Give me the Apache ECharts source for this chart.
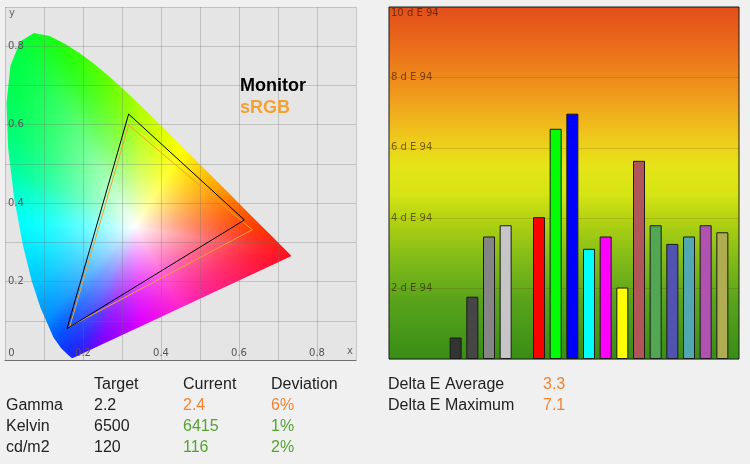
<!DOCTYPE html>
<html>
<head>
<meta charset="utf-8">
<script src="https://cdn.jsdelivr.net/npm/echarts@6/dist/echarts.min.js"></script>
<style>
  html, body { margin: 0; padding: 0; background: #f0f0f0; }
  #main { width: 750px; height: 464px; }
</style>
</head>
<body>
<div id="main"></div>
<script>
// CIE 1931 spectral locus, chromaticity x / y
var locus = [
  [0.1741, 0.0050], [0.1733, 0.0048], [0.1714, 0.0051], [0.1689, 0.0069],
  [0.1644, 0.0109], [0.1566, 0.0177], [0.1440, 0.0297], [0.1241, 0.0578],
  [0.0913, 0.1327], [0.0687, 0.2007], [0.0454, 0.2950], [0.0235, 0.4127],
  [0.0082, 0.5384], [0.0039, 0.6548], [0.0139, 0.7502], [0.0389, 0.8120],
  [0.0743, 0.8338], [0.1142, 0.8262], [0.1547, 0.8059], [0.1929, 0.7816],
  [0.2296, 0.7543], [0.2658, 0.7243], [0.3016, 0.6923], [0.3373, 0.6589],
  [0.3731, 0.6245], [0.4087, 0.5896], [0.4441, 0.5547], [0.4788, 0.5202],
  [0.5125, 0.4866], [0.5448, 0.4544], [0.5752, 0.4242], [0.6029, 0.3965],
  [0.6270, 0.3725], [0.6482, 0.3514], [0.6658, 0.3340], [0.6801, 0.3197],
  [0.6915, 0.3083], [0.7006, 0.2993], [0.7079, 0.2920], [0.7140, 0.2859],
  [0.7190, 0.2809], [0.7260, 0.2740], [0.7320, 0.2680], [0.7347, 0.2653]
];
var whitePoint = [0.333, 0.34];
var monitorGamut = [[0.317, 0.627], [0.614, 0.357], [0.159, 0.080]];
var srgbGamut = [[0.317, 0.599], [0.634, 0.332], [0.166, 0.085]];

// delta E per colour patch (slots on the bar axis, null = empty)
var deltaE = [null, null, null, null, 0.61, 1.77, 3.48, 3.80, null, 4.03, 6.54,
  6.97, 3.13, 3.48, 2.03, 5.63, 3.80, 3.27, 3.48, 3.80, 3.60, null];
var patchColors = [null, null, null, null, '#333333', '#464646', '#858585', '#c6c6c6',
  null, '#ff0000', '#00ff00', '#0000ff', '#00ffff', '#ff00ff', '#ffff00',
  '#b05658', '#52a852', '#5252b0', '#52a8b0', '#b052b0', '#b0ac52', null];
var slots = deltaE.map(function (v, i) { return String(i); });

var tableHeader = ['Target', 'Current', 'Deviation'];
var rowNames = ['Gamma', 'Kelvin', 'cd/m2'];
var targetVals = ['2.2', '6500', '120'];
var currentVals = ['2.4', '6415', '116'];
var deviationVals = ['6%', '1%', '2%'];
var rowWarn = [true, false, false];
var deltaNames = ['Delta E Average', 'Delta E Maximum'];
var deltaVals = ['3.3', '7.1'];

var ORANGE = '#ef8535';
var GREEN = '#56a333';
var FONT = '16px "Liberation Sans", Arial, sans-serif';

// hue wheel around the white point (angle in degrees -> rgb), for the diagram fill
var hueStops = [
  [0, [255, 60, 0]], [12, [255, 110, 0]], [25, [255, 160, 0]], [40, [255, 205, 0]],
  [58, [255, 255, 0]], [72, [225, 255, 0]], [87, [180, 255, 0]], [102, [90, 255, 0]],
  [112, [30, 255, 10]], [123, [0, 255, 64]], [132, [0, 255, 80]], [142, [0, 255, 112]],
  [154, [0, 255, 154]], [161, [0, 255, 192]], [169, [0, 255, 224]], [178, [0, 255, 255]],
  [188, [0, 240, 255]], [208, [0, 200, 255]], [226, [0, 144, 255]], [235, [0, 80, 255]],
  [245, [30, 30, 255]], [254, [128, 0, 255]], [274, [224, 0, 255]], [300, [255, 40, 200]],
  [334, [255, 30, 96]], [349, [255, 16, 32]], [360, [255, 60, 0]]
];

var chartDom = document.getElementById('main');
var myChart = echarts.init(chartDom);
var option;

function hueAt(deg) {
  for (var i = 1; i < hueStops.length; i++) {
    if (deg <= hueStops[i][0]) {
      var a = hueStops[i - 1], b = hueStops[i];
      var f = (deg - a[0]) / (b[0] - a[0]);
      return [0, 1, 2].map(function (c) { return a[1][c] + (b[1][c] - a[1][c]) * f; });
    }
  }
  return hueStops[0][1];
}

// how far a point lies from white towards the locus edge (1 = on the edge)
function edgeRatio(px, py) {
  var wx = whitePoint[0], wy = whitePoint[1];
  var dx = px - wx, dy = py - wy;
  if (dx === 0 && dy === 0) return 0;
  var n = locus.length, best = Infinity;
  for (var i = 0; i < n; i++) {
    var A = locus[i], B = locus[(i + 1) % n];
    var ex = B[0] - A[0], ey = B[1] - A[1];
    var den = dx * ey - dy * ex;
    if (Math.abs(den) < 1e-12) continue;
    var ax = A[0] - wx, ay = A[1] - wy;
    var u = (ax * ey - ay * ex) / den;
    var v = (ax * dy - ay * dx) / den;
    if (u > 0 && v >= 0 && v <= 1 && u < best) best = u;
  }
  return best === Infinity ? 1 : 1 / best;
}

var cieCanvas = null;
function buildCie(w, h, xr, yr) {
  var dpr = window.devicePixelRatio || 1;
  var cw = Math.round(w * dpr), ch = Math.round(h * dpr);
  var c = document.createElement('canvas');
  c.width = cw;
  c.height = ch;
  var ctx = c.getContext('2d');
  var img = ctx.createImageData(cw, ch);
  for (var j = 0; j < ch; j++) {
    for (var i = 0; i < cw; i++) {
      var cx = xr[0] + ((i + 0.5) / cw) * (xr[1] - xr[0]);
      var cy = yr[1] - ((j + 0.5) / ch) * (yr[1] - yr[0]);
      var k = (j * cw + i) * 4;
      var deg = Math.atan2(cy - whitePoint[1], cx - whitePoint[0]) * 180 / Math.PI;
      if (deg < 0) deg += 360;
      var hue = hueAt(deg);
      var t = Math.min(1, edgeRatio(cx, cy));
      var s = 1 - Math.pow(1 - t, 1.5);
      img.data[k] = 255 * (1 - s) + hue[0] * s;
      img.data[k + 1] = 255 * (1 - s) + hue[1] * s;
      img.data[k + 2] = 255 * (1 - s) + hue[2] * s;
      img.data[k + 3] = 255;
    }
  }
  ctx.putImageData(img, 0, 0);
  return c;
}

function renderCie(params, api) {
  var p0 = api.coord([0, 0.9]);
  var p1 = api.coord([0.9, 0]);
  var w = p1[0] - p0[0], h = p1[1] - p0[1];
  if (!cieCanvas) cieCanvas = buildCie(w, h, [0, 0.9], [0, 0.9]);
  return {
    type: 'image',
    silent: true,
    style: { image: cieCanvas, x: p0[0], y: p0[1], width: w, height: h },
    clipPath: { type: 'polygon', shape: { points: locus.map(function (p) { return api.coord(p); }) } }
  };
}

function closed(pts) { return pts.concat([pts[0]]); }

var graphics = [
  { type: 'text', left: 9, top: 8, style: { text: 'y', fill: '#666', font: '10px "DejaVu Sans", sans-serif' } },
  { type: 'text', left: 347, top: 346, style: { text: 'x', fill: '#666', font: '10px "DejaVu Sans", sans-serif' } },
  { type: 'text', left: 240, top: 77, style: { text: 'Monitor', fill: '#000', font: 'bold 18px "Liberation Sans", Arial, sans-serif' } },
  { type: 'text', left: 240, top: 99, style: { text: 'sRGB', fill: '#f2a233', font: 'bold 18px "Liberation Sans", Arial, sans-serif' } }
];
var colX = [94, 183, 271];
tableHeader.forEach(function (t, i) {
  graphics.push({ type: 'text', x: colX[i], y: 385, style: { text: t, fill: '#222', font: FONT, verticalAlign: 'middle' } });
});
rowNames.forEach(function (name, r) {
  var y = 406 + r * 20.7;
  var c = rowWarn[r] ? ORANGE : GREEN;
  graphics.push({ type: 'text', x: 6, y: y, style: { text: name, fill: '#222', font: FONT, verticalAlign: 'middle' } });
  graphics.push({ type: 'text', x: colX[0], y: y, style: { text: targetVals[r], fill: '#222', font: FONT, verticalAlign: 'middle' } });
  graphics.push({ type: 'text', x: colX[1], y: y, style: { text: currentVals[r], fill: c, font: FONT, verticalAlign: 'middle' } });
  graphics.push({ type: 'text', x: colX[2], y: y, style: { text: deviationVals[r], fill: c, font: FONT, verticalAlign: 'middle' } });
});
deltaNames.forEach(function (name, r) {
  var y = 385 + r * 20.5;
  graphics.push({ type: 'text', x: 388, y: y, style: { text: name, fill: '#222', font: FONT, verticalAlign: 'middle' } });
  graphics.push({ type: 'text', x: 543, y: y, style: { text: deltaVals[r], fill: ORANGE, font: FONT, verticalAlign: 'middle' } });
});
graphics.forEach(function (g) { g.z = 20; });

var deLabel = { color: 'rgba(40,15,0,0.6)', fontSize: 10, fontFamily: '"DejaVu Sans", sans-serif' };
var cieGrid = 'rgba(110,110,110,0.3)';

option = {
  backgroundColor: '#f0f0f0',
  animation: false,
  graphic: graphics,
  grid: [
    { left: 5, top: 7, width: 351, height: 353, show: true, backgroundColor: '#e5e5e5', borderWidth: 0 },
    {
      left: 389, top: 7, width: 350, height: 352, show: true, borderColor: '#1a1a1a', borderWidth: 1,
      backgroundColor: {
        type: 'linear', x: 0, y: 0, x2: 0, y2: 1,
        colorStops: [
          { offset: 0, color: '#e24e1a' },
          { offset: 0.12, color: '#eb6e1a' },
          { offset: 0.25, color: '#f09a1c' },
          { offset: 0.36, color: '#efc41c' },
          { offset: 0.45, color: '#e6e418' },
          { offset: 0.53, color: '#d6e414' },
          { offset: 0.61, color: '#b0d112' },
          { offset: 0.71, color: '#84bc18' },
          { offset: 0.83, color: '#5aa41c' },
          { offset: 1, color: '#378d16' }
        ]
      }
    }
  ],
  xAxis: [
    {
      gridIndex: 0, type: 'value', min: 0, max: 0.9, interval: 0.1, z: 3,
      axisLine: { show: true, onZero: false, lineStyle: { color: '#6e6e6e', width: 1 } },
      axisTick: { show: false },
      splitLine: { show: true, lineStyle: { color: cieGrid, width: 1 } },
      axisLabel: {
        inside: true, margin: 2, color: '#555', fontSize: 10, fontFamily: '"DejaVu Sans", sans-serif',
        alignMinLabel: 'left', showMaxLabel: true,
        formatter: function (v) {
          var t = Math.round(v * 10);
          if (t === 0) return ' 0';
          return t % 2 === 0 ? (t / 10).toFixed(1) : '';
        }
      }
    },
    {
      gridIndex: 1, type: 'category', data: slots, boundaryGap: false,
      axisLine: { show: false }, axisTick: { show: false }, axisLabel: { show: false }, splitLine: { show: false }
    }
  ],
  yAxis: [
    {
      gridIndex: 0, type: 'value', min: 0, max: 0.9, interval: 0.1, z: 3,
      axisLine: { show: false }, axisTick: { show: false },
      splitLine: { show: true, lineStyle: { color: cieGrid, width: 1 } },
      axisLabel: {
        inside: true, margin: 3, color: '#555', fontSize: 10, fontFamily: '"DejaVu Sans", sans-serif',
        formatter: function (v) {
          var t = Math.round(v * 10);
          return t > 0 && t % 2 === 0 ? (t / 10).toFixed(1) : '';
        }
      }
    },
    {
      gridIndex: 1, type: 'value', min: 0, max: 10, interval: 2,
      axisLine: { show: false }, axisTick: { show: false },
      splitLine: { show: true, lineStyle: { color: 'rgba(90,40,0,0.16)', width: 1 } },
      axisLabel: {
        inside: true, margin: 2, color: deLabel.color, fontSize: 10, fontFamily: deLabel.fontFamily,
        formatter: function (v) {
          if (v === 0) return '';
          if (v === 10) return '{top|10 d E 94}';
          return v + ' d E 94';
        },
        rich: {
          top: { padding: [13, 0, 0, 0], color: deLabel.color, fontSize: 10, fontFamily: deLabel.fontFamily }
        }
      }
    }
  ],
  series: [
    {
      type: 'custom',
      xAxisIndex: 0, yAxisIndex: 0, z: 1,
      renderItem: renderCie,
      clip: true,
      silent: true,
      data: [[0.3, 0.3]]
    },
    {
      type: 'line', xAxisIndex: 0, yAxisIndex: 0, symbol: 'none', silent: true, z: 5,
      lineStyle: { color: '#f2a233', width: 1 },
      data: closed(srgbGamut)
    },
    {
      type: 'line', xAxisIndex: 0, yAxisIndex: 0, symbol: 'none', silent: true, z: 6,
      lineStyle: { color: '#000', width: 1 },
      data: closed(monitorGamut)
    },
    {
      type: 'bar', xAxisIndex: 1, yAxisIndex: 1, barWidth: 12,
      data: deltaE.map(function (v, i) {
        if (v === null) return null;
        return { value: v, itemStyle: { color: patchColors[i], borderColor: '#1a1a1a', borderWidth: 1 } };
      })
    }
  ]
};

option && myChart.setOption(option);
</script>
</body>
</html>
